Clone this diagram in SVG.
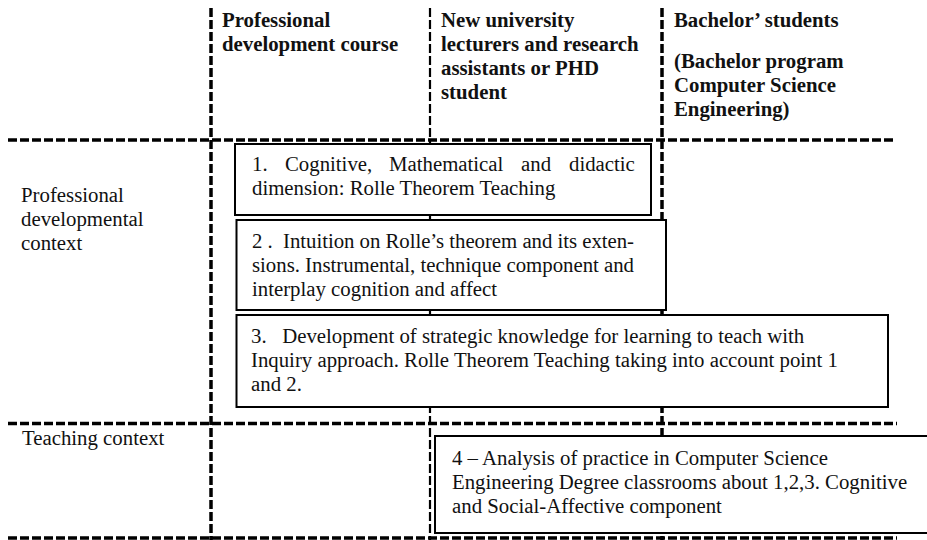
<svg xmlns="http://www.w3.org/2000/svg" width="927" height="540" viewBox="0 0 927 540">
  <style>
    .grid { stroke: #000; fill: none; stroke-dasharray: 9 3; }
    .thick { stroke-width: 3.5; }
    .thin { stroke-width: 2.2; }
    .box { fill: #fff; stroke: #000; stroke-width: 2; }
    text { font-family: "Liberation Serif", "Times New Roman", serif; font-size: 20.8px; fill: #111; }
    .head { font-weight: bold; }
  </style>
  <rect width="927" height="540" fill="#fff"/>

  <!-- dashed table grid -->
  <g id="grid">
    <line class="grid thick" x1="8" y1="140" x2="895" y2="140"/>
    <line class="grid thick" x1="8" y1="423.5" x2="897" y2="423.5"/>
    <line class="grid thick" x1="8" y1="538" x2="897" y2="538"/>
    <line class="grid thick" x1="211" y1="8" x2="211" y2="540"/>
    <line class="grid thin" x1="430" y1="8" x2="430" y2="540"/>
    <line class="grid thick" x1="662" y1="8" x2="662" y2="540"/>
  </g>

  <!-- column headings -->
  <g id="col-course">
    <text class="head" x="222" y="27">Professional</text>
    <text class="head" x="222" y="51">development course</text>
  </g>
  <g id="col-lecturers">
    <text class="head" x="441" y="27">New university</text>
    <text class="head" x="441" y="51">lecturers and research</text>
    <text class="head" x="441" y="75">assistants or PHD</text>
    <text class="head" x="441" y="99">student</text>
  </g>
  <g id="col-bachelor">
    <text class="head" x="674" y="27">Bachelor’ students</text>
    <text class="head" x="674" y="68">(Bachelor program</text>
    <text class="head" x="674" y="92">Computer Science</text>
    <text class="head" x="674" y="116">Engineering)</text>
  </g>

  <!-- row headings -->
  <g id="row-professional">
    <text x="21" y="202">Professional</text>
    <text x="21" y="226">developmental</text>
    <text x="21" y="250">context</text>
  </g>
  <g id="row-teaching">
    <text x="22" y="445">Teaching context</text>
  </g>

  <!-- content boxes -->
  <g id="box1">
    <rect class="box" x="235" y="144" width="416" height="71"/>
    <text y="171"><tspan x="252">1.</tspan><tspan x="285">Cognitive,</tspan><tspan x="389">Mathematical</tspan><tspan x="521">and</tspan><tspan x="569">didactic</tspan></text>
    <text x="252" y="195">dimension: Rolle Theorem Teaching</text>
  </g>
  <g id="box2">
    <rect class="box" x="236.5" y="220" width="429.5" height="90"/>
    <text x="252" y="248" xml:space="preserve" textLength="382" lengthAdjust="spacing">2 .  Intuition on Rolle’s theorem and its exten-</text>
    <text x="252" y="272" textLength="382" lengthAdjust="spacing">sions. Instrumental, technique component and</text>
    <text x="252" y="296">interplay cognition and affect</text>
  </g>
  <g id="box3">
    <rect class="box" x="236.5" y="315" width="651.5" height="92"/>
    <text x="251" y="343" xml:space="preserve">3.   Development of strategic knowledge for learning to teach with</text>
    <text x="251" y="367">Inquiry approach. Rolle Theorem Teaching taking into account point 1</text>
    <text x="251" y="391">and 2.</text>
  </g>
  <g id="box4">
    <rect class="box" x="435" y="436" width="500" height="97"/>
    <text x="452" y="465">4 – Analysis of practice in Computer Science</text>
    <text x="452" y="489">Engineering Degree classrooms about 1,2,3. Cognitive</text>
    <text x="452" y="513">and Social-Affective component</text>
  </g>
</svg>
